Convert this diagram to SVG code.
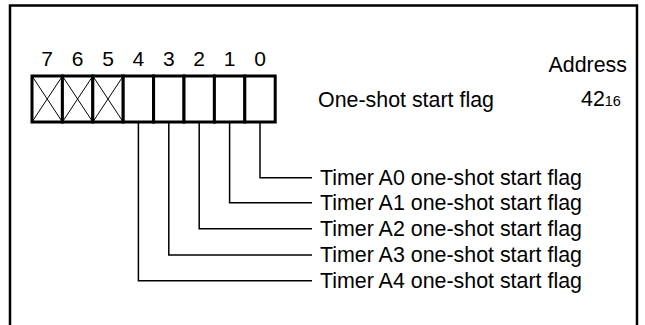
<svg xmlns="http://www.w3.org/2000/svg" width="645" height="325" viewBox="0 0 645 325">
<style>
text{font-family:"Liberation Sans",Arial,sans-serif;fill:#000}
.lbl{font-size:21.4px}
.bit{font-size:21px;text-anchor:middle}
.cell{fill:#fff;stroke:#000;stroke-width:3}
.x{stroke:#000;stroke-width:1;fill:none}
.lead{stroke:#000;stroke-width:1.5;fill:none}
</style>
<rect width="645" height="325" fill="#fff"/>
<path id="frame" d="M10,330 V5.5 H637 V330" fill="none" stroke="#000" stroke-width="2.5"/>
<g id="bits">
<text class="bit" x="47.2" y="66">7</text>
<text class="bit" x="77.6" y="66">6</text>
<text class="bit" x="108" y="66">5</text>
<text class="bit" x="138.4" y="66">4</text>
<text class="bit" x="168.8" y="66">3</text>
<text class="bit" x="199.2" y="66">2</text>
<text class="bit" x="229.6" y="66">1</text>
<text class="bit" x="260" y="66">0</text>
</g>
<g id="register">
<rect class="cell" x="32" y="76" width="30.4" height="46"/>
<rect class="cell" x="62.4" y="76" width="30.4" height="46"/>
<rect class="cell" x="92.8" y="76" width="30.4" height="46"/>
<rect class="cell" x="123.2" y="76" width="30.4" height="46"/>
<rect class="cell" x="153.6" y="76" width="30.4" height="46"/>
<rect class="cell" x="184" y="76" width="30.4" height="46"/>
<rect class="cell" x="214.4" y="76" width="30.4" height="46"/>
<rect class="cell" x="244.8" y="76" width="30.4" height="46"/>
<path class="x" d="M32,76 L62.4,122 M62.4,76 L32,122 M62.4,76 L92.8,122 M92.8,76 L62.4,122 M92.8,76 L123.2,122 M123.2,76 L92.8,122"/>
</g>
<g id="title">
<text class="lbl" x="318" y="107">One-shot start flag</text>
<text class="lbl" x="627" y="72" text-anchor="end">Address</text>
<text class="lbl" x="581" y="106">42<tspan font-size="14.5">16</tspan></text>
</g>
<g id="connectors">
<path class="lead" d="M260,122 V177.7 H312"/>
<path class="lead" d="M229.6,122 V202.7 H312"/>
<path class="lead" d="M199.2,122 V228.7 H312"/>
<path class="lead" d="M168.8,122 V255 H312"/>
<path class="lead" d="M138.4,122 V280.7 H312"/>
</g>
<g id="labels">
<text class="lbl" x="320" y="185">Timer A0 one-shot start flag</text>
<text class="lbl" x="320" y="210">Timer A1 one-shot start flag</text>
<text class="lbl" x="320" y="236">Timer A2 one-shot start flag</text>
<text class="lbl" x="320" y="262">Timer A3 one-shot start flag</text>
<text class="lbl" x="320" y="288">Timer A4 one-shot start flag</text>
</g>
</svg>
